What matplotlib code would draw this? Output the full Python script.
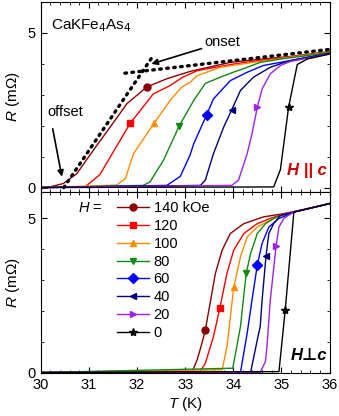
import matplotlib
matplotlib.use('Agg')
import matplotlib.pyplot as plt
from matplotlib.lines import Line2D
from matplotlib.ticker import MultipleLocator

plt.rcParams['font.family'] = ['Liberation Sans', 'DejaVu Sans']
plt.rcParams['mathtext.fontset'] = 'custom'
plt.rcParams['mathtext.it'] = 'Liberation Sans:italic'

fields = ['140 kOe', '120', '100', '80', '60', '40', '20', '0']
colors = ['#8B0000', '#FF0000', '#FF8C00', '#108A10', '#0000FF', '#000080', '#A020F0', '#000000']
markers = ['o', 's', '^', 'v', 'D', '<', '>', '*']

# H || c (top panel)
T_par = [
    [30, 30.19, 30.47, 30.75, 31.09, 31.44, 31.79, 32.2, 32.62, 33.11, 33.94, 34.63, 35.3, 36],
    [30, 30.92, 31.23, 31.86, 32.34, 32.69, 32.95, 33.25, 33.94, 34.63, 35.3, 36],
    [30, 31.58, 31.76, 31.93, 32.36, 32.69, 32.93, 33.11, 33.25, 33.73, 34.42, 35.1, 36],
    [30, 32.13, 32.27, 32.55, 32.88, 33.18, 33.42, 33.73, 34.0, 34.29, 34.56, 35.0, 35.5, 36],
    [30, 32.62, 32.9, 33.1, 33.18, 33.45, 33.59, 33.94, 34.29, 34.63, 34.98, 35.5, 36],
    [30, 33.32, 33.42, 33.59, 33.8, 33.97, 34.15, 34.42, 34.77, 35.12, 35.5, 36],
    [30, 33.97, 34.11, 34.29, 34.39, 34.5, 34.6, 34.77, 34.98, 35.19, 35.6, 36],
    [30, 34.84, 34.98, 35.15, 35.33, 35.54, 36],
]
R_par = [
    [0, 0.02, 0.13, 0.45, 1.2, 1.95, 2.71, 3.25, 3.52, 3.76, 4.05, 4.16, 4.26, 4.40],
    [0, 0.02, 0.42, 2.08, 3.03, 3.30, 3.57, 3.78, 3.98, 4.13, 4.24, 4.39],
    [0, 0.08, 0.29, 1.10, 2.09, 2.82, 3.25, 3.41, 3.62, 3.89, 4.05, 4.20, 4.38],
    [0, 0.07, 0.18, 0.88, 2.0, 2.82, 3.37, 3.57, 3.73, 3.89, 4.05, 4.16, 4.26, 4.37],
    [0, 0.07, 0.36, 1.04, 1.42, 2.36, 2.87, 3.46, 3.73, 3.95, 4.05, 4.2, 4.34],
    [0, 0.07, 0.24, 1.10, 1.95, 2.52, 3.14, 3.57, 3.89, 4.08, 4.2, 4.33],
    [0, 0.07, 0.24, 1.10, 1.74, 2.6, 3.19, 3.68, 3.95, 4.08, 4.2, 4.32],
    [0, 0.02, 0.58, 2.6, 3.98, 4.16, 4.32],
]
mk_par = [7, 3, 4, 4, 5, 5, 5, 3]

# H perp c (bottom panel)
T_perp = [
    [30, 33.14, 33.25, 33.35, 33.42, 33.52, 33.63, 33.77, 33.94, 34.22, 34.63, 35.0, 35.3, 36],
    [30, 33.31, 33.42, 33.59, 33.72, 33.87, 34.01, 34.22, 34.5, 34.77, 35.0, 35.3, 36],
    [30, 33.77, 33.87, 34.01, 34.15, 34.29, 34.5, 34.74, 35.0, 35.3, 36],
    [30, 33.99, 34.15, 34.27, 34.36, 34.5, 34.67, 34.9, 35.3, 36],
    [30, 34.15, 34.29, 34.39, 34.5, 34.6, 34.74, 34.95, 35.3, 36],
    [30, 34.36, 34.5, 34.56, 34.6, 34.68, 34.74, 34.84, 34.98, 35.3, 36],
    [30, 34.56, 34.67, 34.7, 34.77, 34.89, 34.95, 35.05, 35.26, 36],
    [30, 34.95, 35.08, 35.26, 35.6, 36],
]
R_perp = [
    [0, 0.0, 0.41, 0.95, 1.38, 2.25, 3.22, 3.97, 4.51, 4.83, 5.05, 5.14, 5.23, 5.48],
    [0, 0.03, 0.30, 1.17, 2.08, 3.22, 3.97, 4.51, 4.83, 5.0, 5.12, 5.23, 5.48],
    [0, 0.09, 0.84, 2.76, 3.75, 4.40, 4.72, 4.92, 5.1, 5.22, 5.48],
    [0, 0.14, 1.49, 3.22, 3.86, 4.51, 4.83, 5.05, 5.22, 5.48],
    [0, 0.0, 1.28, 2.35, 3.49, 4.19, 4.72, 5.0, 5.22, 5.48],
    [0, 0.0, 1.06, 1.49, 2.35, 3.77, 4.51, 4.83, 5.1, 5.22, 5.48],
    [0, 0.0, 0.36, 0.84, 2.35, 4.1, 4.72, 5.0, 5.21, 5.48],
    [0, 0.03, 2.03, 5.21, 5.33, 5.48],
]
mk_perp = [4, 4, 3, 3, 4, 5, 5, 2]

# construction lines for onset / offset
T_steep = [30.48, 32.33]
R_steep = [0.0, 4.25]
T_flat = [31.75, 36.0]
R_flat = [3.70, 4.47]

fig = plt.figure(figsize=(3.39, 4.16), dpi=100)
ax1 = fig.add_axes([0.12, 0.538, 0.852, 0.457])
ax2 = fig.add_axes([0.12, 0.103, 0.852, 0.435])

for T, R, c, m, k in zip(T_par, R_par, colors, markers, mk_par):
    ax1.plot(T, R, color=c, lw=1.0, marker=m, markevery=[k], ms=5 if m != '*' else 6)
for T, R, c, m, k in zip(T_perp, R_perp, colors, markers, mk_perp):
    ax2.plot(T, R, color=c, lw=1.0, marker=m, markevery=[k], ms=5 if m != '*' else 6)

dots = (0, (0.5, 1.6))
ax1.plot(T_steep, R_steep, color='k', lw=2.4, ls=dots, dash_capstyle='round')
ax1.plot(T_flat, R_flat, color='k', lw=2.4, ls=dots, dash_capstyle='round')

ax1.annotate('onset', xy=(32.3, 4.0), xytext=(33.4, 4.7), fontsize=10.5,
             va='center', ha='left',
             arrowprops=dict(arrowstyle='-|>', color='k', lw=1.2, shrinkA=0, shrinkB=0,
                             mutation_scale=9))
ax1.text(30.52, 2.45, 'offset', fontsize=10.5, va='center', ha='center')
ax1.annotate('', xy=(30.44, 0.35), xytext=(30.25, 1.9),
             arrowprops=dict(arrowstyle='-|>', color='k', lw=1.2, shrinkA=0, shrinkB=0,
                             mutation_scale=9))
ax1.text(30.22, 5.22, 'CaKFe$_4$As$_4$', fontsize=11, va='center', ha='left')
ax1.text(35.95, 0.55, 'H || c', fontsize=12, fontweight='bold', style='italic',
         color='#CC0000', ha='right', va='center')
ax2.text(35.95, 0.55, 'H\u22a5c', fontsize=12, fontweight='bold', style='italic',
         color='k', ha='right', va='center')

handles = [Line2D([], [], color=c, lw=1.0, marker=m, ms=5 if m != '*' else 6)
           for c, m in zip(colors, markers)]
ax2.legend(handles, fields, loc='upper left', bbox_to_anchor=(0.265, 0.95),
           frameon=False, fontsize=10.5, numpoints=1, handlelength=2.2,
           handletextpad=0.3, labelspacing=0.26, borderpad=0, borderaxespad=0)
ax2.text(30.78, 5.33, '$H$ =', fontsize=10.5, va='center', ha='left')

for ax in (ax1, ax2):
    ax.set_xlim(30, 36)
    ax.xaxis.set_major_locator(MultipleLocator(1))
    ax.xaxis.set_minor_locator(MultipleLocator(0.2))
    ax.yaxis.set_major_locator(MultipleLocator(5))
    ax.yaxis.set_minor_locator(MultipleLocator(1))
    ax.tick_params(which='both', direction='in', top=True, right=True, labelsize=10.5)
    ax.tick_params(which='major', length=4)
    ax.tick_params(which='minor', length=2)
    ax.set_ylabel('$R$ (m\u03a9)', fontsize=11, labelpad=4)

ax1.set_ylim(-0.15, 6.0)
ax2.set_ylim(-0.02, 5.85)
ax1.tick_params(labelbottom=False)
ax2.set_xlabel('$T$ (K)', fontsize=11, labelpad=2)

fig.savefig('out.png', dpi=100)
